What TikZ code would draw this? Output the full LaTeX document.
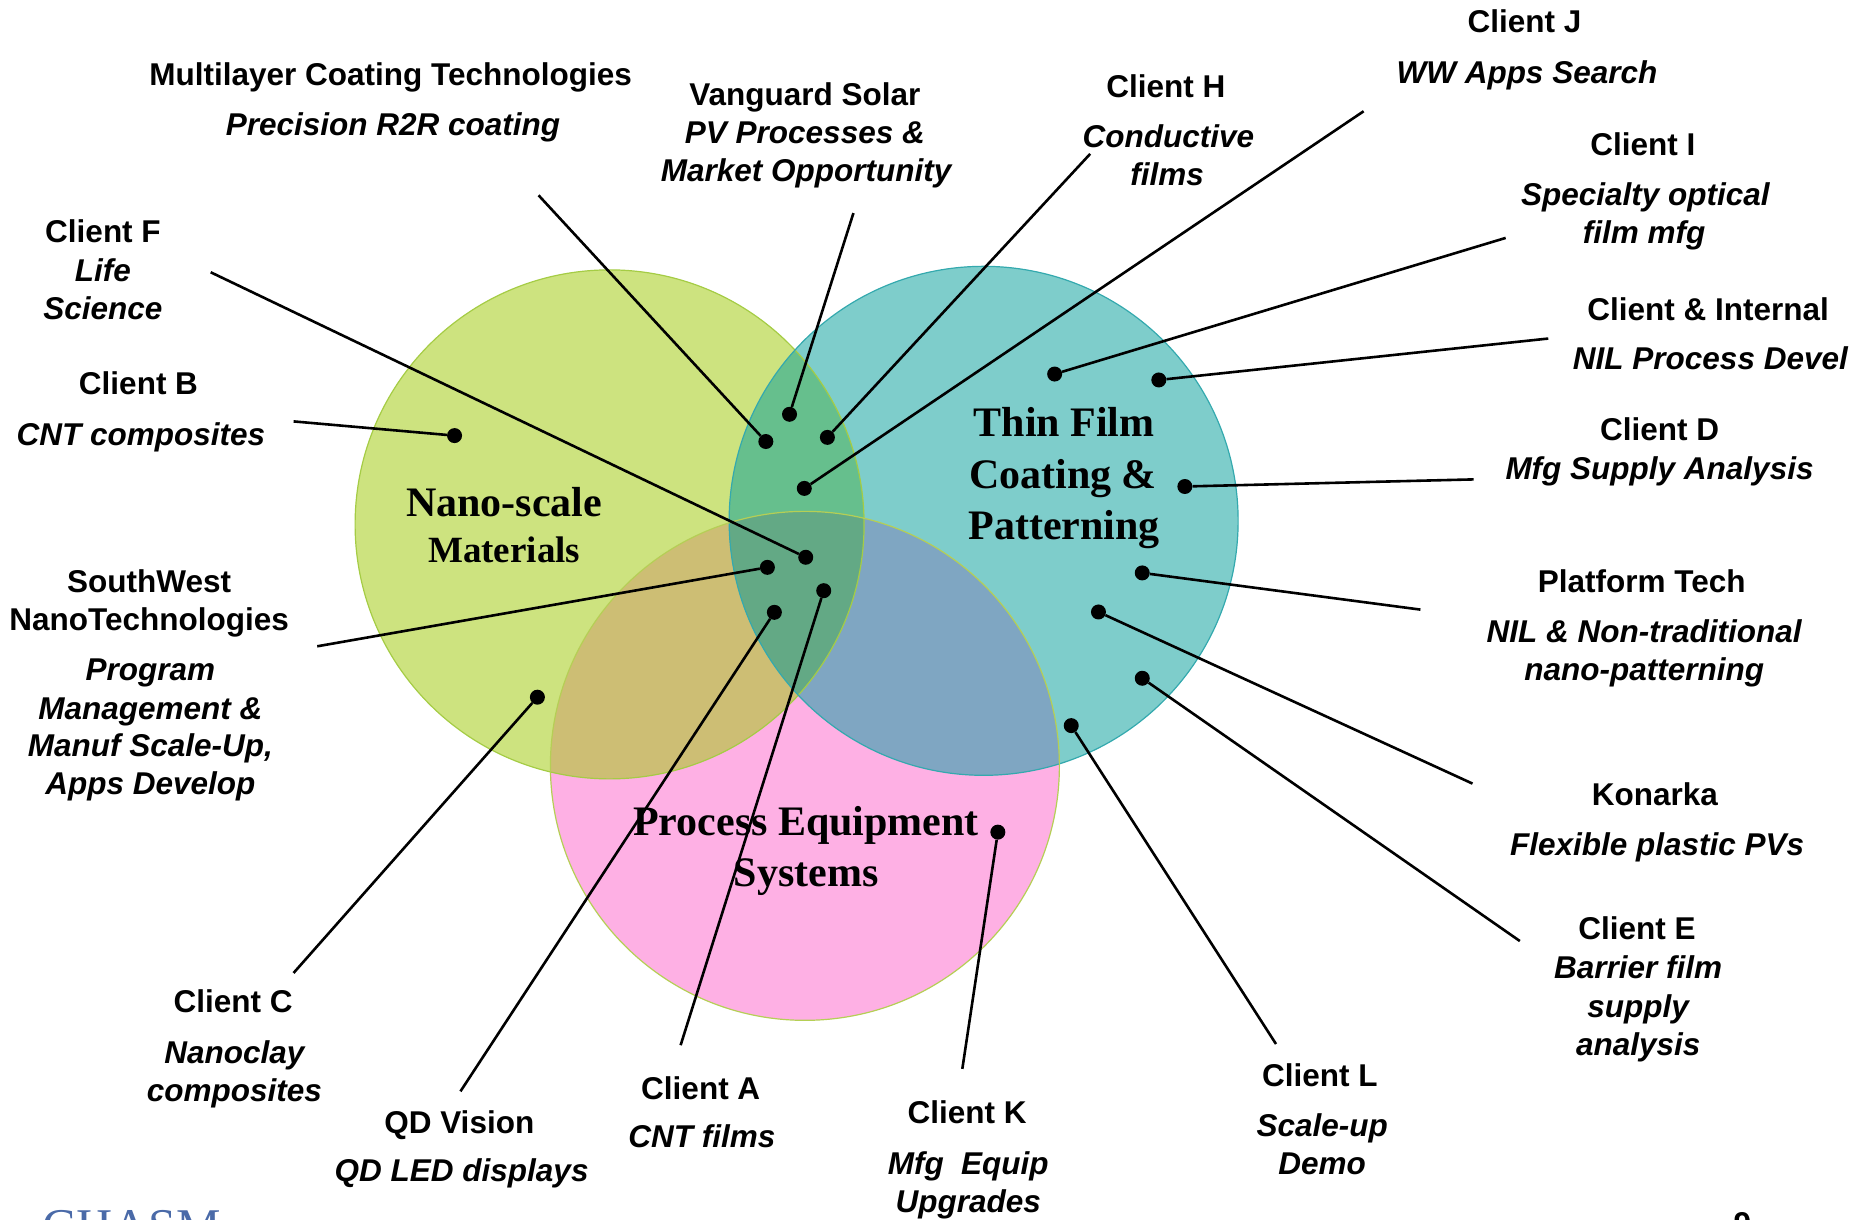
\documentclass[tikz,border=0pt]{standalone}
\usepackage{fontspec}
\setmainfont{Liberation Sans}
\newfontfamily\tnr{Liberation Serif}
\definecolor{gcol}{HTML}{CDE37F}
\definecolor{tcol}{HTML}{7ECDCB}
\definecolor{pcol}{HTML}{FEB0E4}
\definecolor{gtcol}{HTML}{66BF8D}
\definecolor{gpcol}{HTML}{CDBE74}
\definecolor{tpcol}{HTML}{7FA6C2}
\definecolor{gtpcol}{HTML}{63A985}
\definecolor{gline}{HTML}{A5CC45}
\definecolor{tline}{HTML}{34A9AE}
\definecolor{pline}{HTML}{B5CF55}
\definecolor{logocol}{HTML}{4A6AA8}
\tikzset{
  lb/.style={inner sep=0pt, anchor=base, font=\fontsize{31.5}{37}\selectfont\bfseries},
  li/.style={inner sep=0pt, anchor=base, font=\fontsize{31.5}{37}\selectfont\bfseries\itshape},
  big/.style={inner sep=0pt, anchor=base, font=\tnr\fontsize{42}{46}\selectfont\bfseries},
  bigs/.style={inner sep=0pt, anchor=base, font=\tnr\fontsize{37}{40}\selectfont\bfseries},
  dotn/.style={circle, fill=black, inner sep=0pt, minimum size=15pt},
  conn/.style={line width=2.6pt, black},
}
\begin{document}
\begin{tikzpicture}[x=1.18367pt, y=-1.18367pt]
\useasboundingbox (0,0) rectangle (1568,1030);
\coordinate (G) at (515,443);
\coordinate (T) at (831,440);
\coordinate (P) at (680,647);
% circle fills
\fill[gcol] (G) circle [radius=215];
\fill[tcol] (T) circle [radius=215];
\fill[pcol] (P) circle [radius=215];
\begin{scope}
  \clip (G) circle [radius=215];
  \fill[gtcol] (T) circle [radius=215];
  \fill[gpcol] (P) circle [radius=215];
\end{scope}
\begin{scope}
  \clip (T) circle [radius=215];
  \fill[tpcol] (P) circle [radius=215];
\end{scope}
\begin{scope}
  \clip (G) circle [radius=215];
  \clip (T) circle [radius=215];
  \fill[gtpcol] (P) circle [radius=215];
\end{scope}
\draw[gline, line width=1.2pt] (G) circle [radius=215];
\draw[tline, line width=1.2pt] (T) circle [radius=215];
\draw[pline, line width=1.2pt] (P) circle [radius=215];

% circle labels
\node[big] (nano1) at (426,436.7) {Nano-scale};
\node[bigs] (nano2) at (426,475) {Materials};
\node[big] (thin1) at (899,368.7) {Thin Film};
\node[big] (thin2) at (898,412.7) {Coating \&};
\node[big] (thin3) at (899,455.7) {Patterning};
\node[big] (proc1) at (681,705.7) {Process Equipment};
\node[big] (proc2) at (681,748.7) {Systems};

% labels
\node[lb] (mlA) at (330,72.5) {Multilayer Coating Technologies};
\node[li] (mlB) at (332,114.5) {Precision R2R coating};
\node[lb] (vgA) at (680,89.5) {Vanguard Solar};
\node[li] (vgB) at (680,121.5) {PV Processes \&};
\node[li] (vgC) at (681,153.5) {Market Opportunity};
\node[lb] (chA) at (985,82.5) {Client H};
\node[li] (chB) at (987,124.5) {Conductive};
\node[li] (chC) at (986,156.5) {films};
\node[lb] (cjA) at (1288,27.5) {Client J};
\node[li] (cjB) at (1290,70.5) {WW Apps Search};
\node[lb] (ciA) at (1388,131.5) {Client I};
\node[li] (ciB) at (1390,173.5) {Specialty optical};
\node[li] (ciC) at (1389,205.5) {film mfg};
\node[lb] (inA) at (1443,270.5) {Client \& Internal};
\node[li] (inB) at (1445,312.5) {NIL Process Devel};
\node[lb] (cdA) at (1402,372.5) {Client D};
\node[li] (cdB) at (1402,405.5) {Mfg Supply Analysis};
\node[lb] (ptA) at (1387,500.5) {Platform Tech};
\node[li] (ptB) at (1389,542.5) {NIL \& Non-traditional};
\node[li] (ptC) at (1389,574.5) {nano-patterning};
\node[lb] (koA) at (1398,680.5) {Konarka};
\node[li] (koB) at (1400,722.5) {Flexible plastic PVs};
\node[lb] (ceA) at (1383,793.5) {Client E};
\node[li] (ceB) at (1384,826.5) {Barrier film};
\node[li] (ceC) at (1384,859.5) {supply};
\node[li] (ceD) at (1384,891.5) {analysis};
\node[lb] (clA) at (1115,917.5) {Client L};
\node[li] (clB) at (1117,960.5) {Scale-up};
\node[li] (clC) at (1117,992.5) {Demo};
\node[lb] (ckA) at (817,949.5) {Client K};
\node[li] (ckB) at (818,992.5) {Mfg~~Equip};
\node[li] (ckC) at (818,1024.5) {Upgrades};
\node[lb] (caA) at (592,928.5) {Client A};
\node[li] (caB) at (593,969.5) {CNT films};
\node[lb] (qdA) at (388,957.5) {QD Vision};
\node[li] (qdB) at (390,998.5) {QD LED displays};
\node[lb] (ccA) at (197,855.5) {Client C};
\node[li] (ccB) at (198,898.5) {Nanoclay};
\node[li] (ccC) at (198,930.5) {composites};
\node[lb] (swA) at (126,500.5) {SouthWest};
\node[lb] (swB) at (126,532.5) {NanoTechnologies};
\node[li] (swC) at (127,574.5) {Program};
\node[li] (swD) at (127,607.5) {Management \&};
\node[li] (swE) at (127,639.5) {Manuf Scale-Up,};
\node[li] (swF) at (127,671.5) {Apps Develop};
\node[lb] (cbA) at (117,333.5) {Client B};
\node[li] (cbB) at (119,376.5) {CNT composites};
\node[lb] (cfA) at (87,204.5) {Client F};
\node[li] (cfB) at (87,237.5) {Life};
\node[li] (cfC) at (87,269.5) {Science};

% footer (cut off)
\node[anchor=north west, inner sep=0pt, font=\tnr\fontsize{50}{50}\selectfont, text=logocol] (logo) at (36,1022.5) {CHASM};
\node[anchor=north, inner sep=0pt, font=\fontsize{31.5}{37}\selectfont\bfseries] (pg) at (1472,1024) {9};

% dots
\node[dotn] (mlD) at (647,373) {};
\node[dotn] (vgD) at (667,350) {};
\node[dotn] (chD) at (699,369.5) {};
\node[dotn] (cjD) at (679.5,412.6) {};
\node[dotn] (cfD) at (680.7,470.8) {};
\node[dotn] (swDt) at (648.3,479.3) {};
\node[dotn] (caD) at (695.9,499) {};
\node[dotn] (qdD) at (654.2,517.3) {};
\node[dotn] (cbD) at (384,368) {};
\node[dotn] (ccD) at (454,589) {};
\node[dotn] (ciD) at (891,316) {};
\node[dotn] (inD) at (979,321) {};
\node[dotn] (cdD) at (1001,411) {};
\node[dotn] (ptD) at (965,484) {};
\node[dotn] (koD) at (928,517) {};
\node[dotn] (ceD2) at (965,573) {};
\node[dotn] (clD) at (905,613) {};
\node[dotn] (ckD) at (843,703) {};

% free ends
\coordinate (mlE) at (455,165);
\coordinate (vgE) at (721,180);
\coordinate (chE) at (921,130);
\coordinate (cjE) at (1152,94);
\coordinate (ciE) at (1272,201);
\coordinate (inE) at (1308,286);
\coordinate (cdE) at (1245,405);
\coordinate (ptE) at (1200,515);
\coordinate (koE) at (1244,662);
\coordinate (ceE) at (1284,795);
\coordinate (clE) at (1078,882);
\coordinate (ckE) at (813,903);
\coordinate (caE) at (575,883);
\coordinate (qdE) at (389,922);
\coordinate (ccE) at (248,822);
\coordinate (swE2) at (268,546);
\coordinate (cbE) at (248,356);
\coordinate (cfE) at (178,230);

\draw[conn] (mlE) -- (mlD);
\draw[conn] (vgE) -- (vgD);
\draw[conn] (chE) -- (chD);
\draw[conn] (cjE) -- (cjD);
\draw[conn] (ciE) -- (ciD);
\draw[conn] (inE) -- (inD);
\draw[conn] (cdE) -- (cdD);
\draw[conn] (ptE) -- (ptD);
\draw[conn] (koE) -- (koD);
\draw[conn] (ceE) -- (ceD2);
\draw[conn] (clE) -- (clD);
\draw[conn] (ckE) -- (ckD);
\draw[conn] (caE) -- (caD);
\draw[conn] (qdE) -- (qdD);
\draw[conn] (ccE) -- (ccD);
\draw[conn] (swE2) -- (swDt);
\draw[conn] (cbE) -- (cbD);
\draw[conn] (cfE) -- (cfD);
\end{tikzpicture}
\end{document}
